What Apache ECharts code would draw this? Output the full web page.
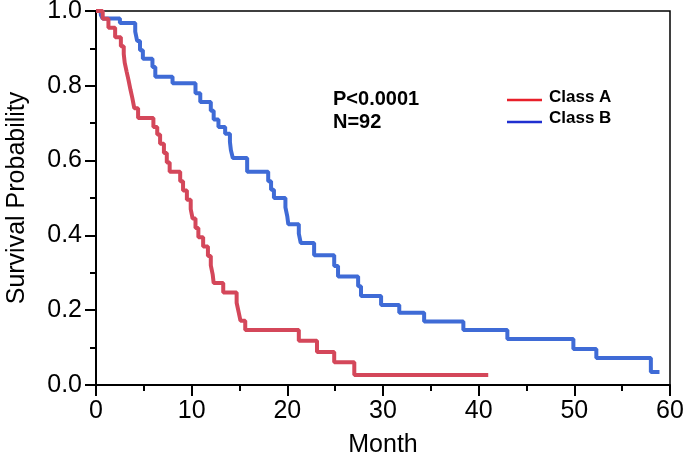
<!DOCTYPE html>
<html>
<head>
<meta charset="utf-8">
<script src="https://cdn.jsdelivr.net/npm/echarts@6/dist/echarts.min.js"></script>
<style>html,body{margin:0;padding:0;background:#fff}#c{width:685px;height:461px}</style>
</head>
<body>
<div id="c"></div>
<script>
var classAMonths = [0,0.7,1.3,2.0,2.6,2.9,3.0,3.2,3.4,3.6,3.8,4.0,4.4,6.0,6.4,6.7,7.1,7.4,7.7,8.8,9.1,9.5,9.9,10.1,10.4,10.7,11.2,11.7,12.0,12.2,12.3,13.3,14.7,14.9,15.1,15.6,21.2,23.1,24.9,27.0,41.0];
var classASurv   = [1.0,0.979,0.955,0.93,0.906,0.885,0.862,0.838,0.815,0.79,0.767,0.74,0.714,0.69,0.67,0.645,0.62,0.595,0.57,0.545,0.52,0.495,0.47,0.445,0.42,0.395,0.37,0.345,0.32,0.295,0.273,0.247,0.22,0.196,0.172,0.147,0.118,0.088,0.061,0.027,0.027];
var classBMonths = [0,0.5,0.7,2.5,4.1,4.3,4.6,4.9,5.9,6.2,8.0,10.4,10.9,12.0,12.3,12.8,13.5,14.0,14.1,14.3,15.8,18.0,18.3,18.6,19.8,20.0,20.1,21.2,21.4,22.8,24.9,25.3,27.4,27.7,29.8,31.7,34.3,38.4,43.0,49.9,52.3,58.0,58.9];
var classBSurv   = [1.0,0.99,0.98,0.968,0.945,0.92,0.895,0.872,0.85,0.824,0.807,0.78,0.757,0.733,0.71,0.69,0.672,0.65,0.628,0.607,0.57,0.545,0.522,0.5,0.475,0.45,0.43,0.405,0.38,0.347,0.318,0.29,0.264,0.238,0.214,0.193,0.17,0.147,0.123,0.096,0.072,0.035,0.035];
var xTicks = [0,10,20,30,40,50,60];
var yTicks = [0.0,0.2,0.4,0.6,0.8,1.0];
var seriesNames = ['Class A','Class B'];
var annotation = ['P<0.0001','N=92'];

function pairs(xs, ys){ return xs.map(function(x,i){ return [x, ys[i]]; }); }

var chart = echarts.init(document.getElementById('c'));
var font = 'Liberation Sans, Arial, sans-serif';
var axisCommon = {
  axisLine:{show:true,onZero:false,lineStyle:{color:'#000',width:2}},
  axisTick:{show:true,length:11,lineStyle:{color:'#000',width:2}},
  minorTick:{show:true,splitNumber:2,length:6,lineStyle:{color:'#000',width:2}},
  splitLine:{show:false},
  axisLabel:{color:'#000',fontSize:25,fontFamily:font},
  nameTextStyle:{color:'#000',fontSize:25,fontFamily:font}
};
chart.setOption({
  animation:false,
  grid:{left:96,right:15,top:11,bottom:76,containLabel:false,outerBoundsMode:'none',show:true,borderColor:'#000',borderWidth:1.5,backgroundColor:'transparent'},
  xAxis:Object.assign({type:'value',min:xTicks[0],max:xTicks[xTicks.length-1],interval:10,name:'Month',nameLocation:'middle',nameGap:48}, axisCommon,
    {axisLabel:Object.assign({},axisCommon.axisLabel,{margin:14})}),
  yAxis:Object.assign({type:'value',min:yTicks[0],max:yTicks[yTicks.length-1],interval:0.2,name:'Survival Probability',nameLocation:'middle',nameGap:66}, axisCommon,
    {axisLabel:Object.assign({},axisCommon.axisLabel,{margin:14,formatter:function(v){return v.toFixed(1);}})}),
  series:[
    {name:seriesNames[0],type:'line',step:'end',showSymbol:false,data:pairs(classAMonths,classASurv),lineStyle:{color:'#d4475a',width:4},itemStyle:{color:'#d4475a'},z:3},
    {name:seriesNames[1],type:'line',step:'end',showSymbol:false,data:pairs(classBMonths,classBSurv),lineStyle:{color:'#3f6bd6',width:4},itemStyle:{color:'#3f6bd6'},z:2}
  ],
  graphic:[
    {type:'text',left:333,top:89,style:{text:annotation[0],fill:'#000',font:'bold 20px '+font}},
    {type:'text',left:333,top:112,style:{text:annotation[1],fill:'#000',font:'bold 20px '+font}},
    {type:'line',shape:{x1:507,y1:100,x2:542,y2:100},style:{stroke:'#e8202a',lineWidth:2.5}},
    {type:'line',shape:{x1:507,y1:122,x2:542,y2:122},style:{stroke:'#1f2fd0',lineWidth:2.5}},
    {type:'text',left:549,top:89,style:{text:seriesNames[0],fill:'#000',font:'bold 17px '+font}},
    {type:'text',left:549,top:110,style:{text:seriesNames[1],fill:'#000',font:'bold 17px '+font}}
  ]
});
</script>
</body>
</html>
